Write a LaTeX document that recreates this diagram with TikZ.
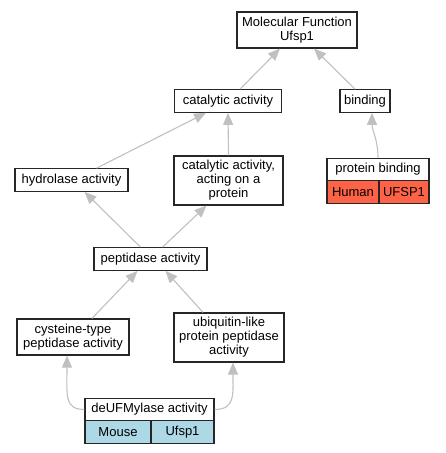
\documentclass[tikz,border=0pt]{standalone}
\usepackage{fontspec}
\setmainfont{Liberation Sans}
\usepackage{tikz}
\usetikzlibrary{positioning, arrows.meta}
\definecolor{humanred}{HTML}{FF6347}
\definecolor{mouseblue}{HTML}{ADD8E6}
\definecolor{edgegray}{HTML}{C0C0C0}
\tikzset{% styles for the GO graph
	term/.style={draw=black!85, line width=1.2pt, fill=white, inner sep=0pt, align=center, font=\fontsize{13}{14}\selectfont},
	cell/.style={term, minimum height=22.5pt},
	isa/.style={-{Triangle[width=10pt,length=12pt]}, edgegray, line width=1.1pt},
}
\begin{document}
\begin{tikzpicture}[x=1pt, y=-1pt]
	\useasboundingbox (0,0) rectangle (445,453);
	% terms
	\node[term, minimum width=120pt, minimum height=36pt] (mf) at (297,30) {Molecular Function\\Ufsp1};
	\node[cell, minimum width=107pt] (cat) at (228,101) {catalytic activity};
	\node[cell, minimum width=50pt] (bind) at (365,101) {binding};
	\node[cell, minimum width=113pt] (hyd) at (71.5,180) {hydrolase activity};
	\node[term, minimum width=109pt, minimum height=49pt] (catp) at (228.5,180.5) {catalytic activity,\\acting on a\\protein};
	\node[cell, minimum width=102pt] (pb) at (378,169.5) {protein binding};
	\node[cell, minimum width=52pt, fill=humanred] (pbh) at (353,192) {Human};
	\node[cell, minimum width=50pt, fill=humanred] (pbu) at (404,192) {UFSP1};
	\node[cell, minimum width=113pt] (pep) at (150.5,259) {peptidase activity};
	\node[term, minimum width=112pt, minimum height=36pt] (cys) at (73,337) {cysteine-type\\peptidase activity};
	\node[term, minimum width=110pt, minimum height=49pt] (ubi) at (229,337.5) {ubiquitin-like\\protein peptidase\\activity};
	\node[cell, minimum width=129pt] (deuf) at (149.5,409.5) {deUFMylase activity};
	\node[cell, minimum width=66pt, fill=mouseblue] (mou) at (118,432) {Mouse};
	\node[cell, minimum width=63pt, fill=mouseblue] (ufs) at (182.5,432) {Ufsp1};
	% is_a edges
	\draw[isa] ([xshift=12pt]cat.north) -- ([xshift=-17pt]mf.south);
	\draw[isa] ([xshift=-10pt]bind.north) -- ([xshift=17pt]mf.south);
	\draw[isa] ([xshift=25pt]hyd.north) -- ([xshift=-22pt]cat.south);
	\draw[isa] (catp.north) -- (cat.south);
	\draw[isa] (pb.north) .. controls (378,140) and (372,130) .. ([xshift=7pt]bind.south);
	\draw[isa] ([xshift=-10pt]pep.north) -- ([xshift=13pt]hyd.south);
	\draw[isa] ([xshift=12pt]pep.north) -- ([xshift=-22pt]catp.south);
	\draw[isa] ([xshift=19pt]cys.north) -- ([xshift=-13pt]pep.south);
	\draw[isa] ([xshift=-26pt]ubi.north) -- ([xshift=15pt]pep.south);
	\draw[isa] (deuf.west) .. controls (64,409.5) and (67,395) .. ([xshift=-6pt]cys.south);
	\draw[isa] (deuf.east) .. controls (235,409.5) and (233,395) .. ([xshift=4pt]ubi.south);
\end{tikzpicture}
\end{document}
